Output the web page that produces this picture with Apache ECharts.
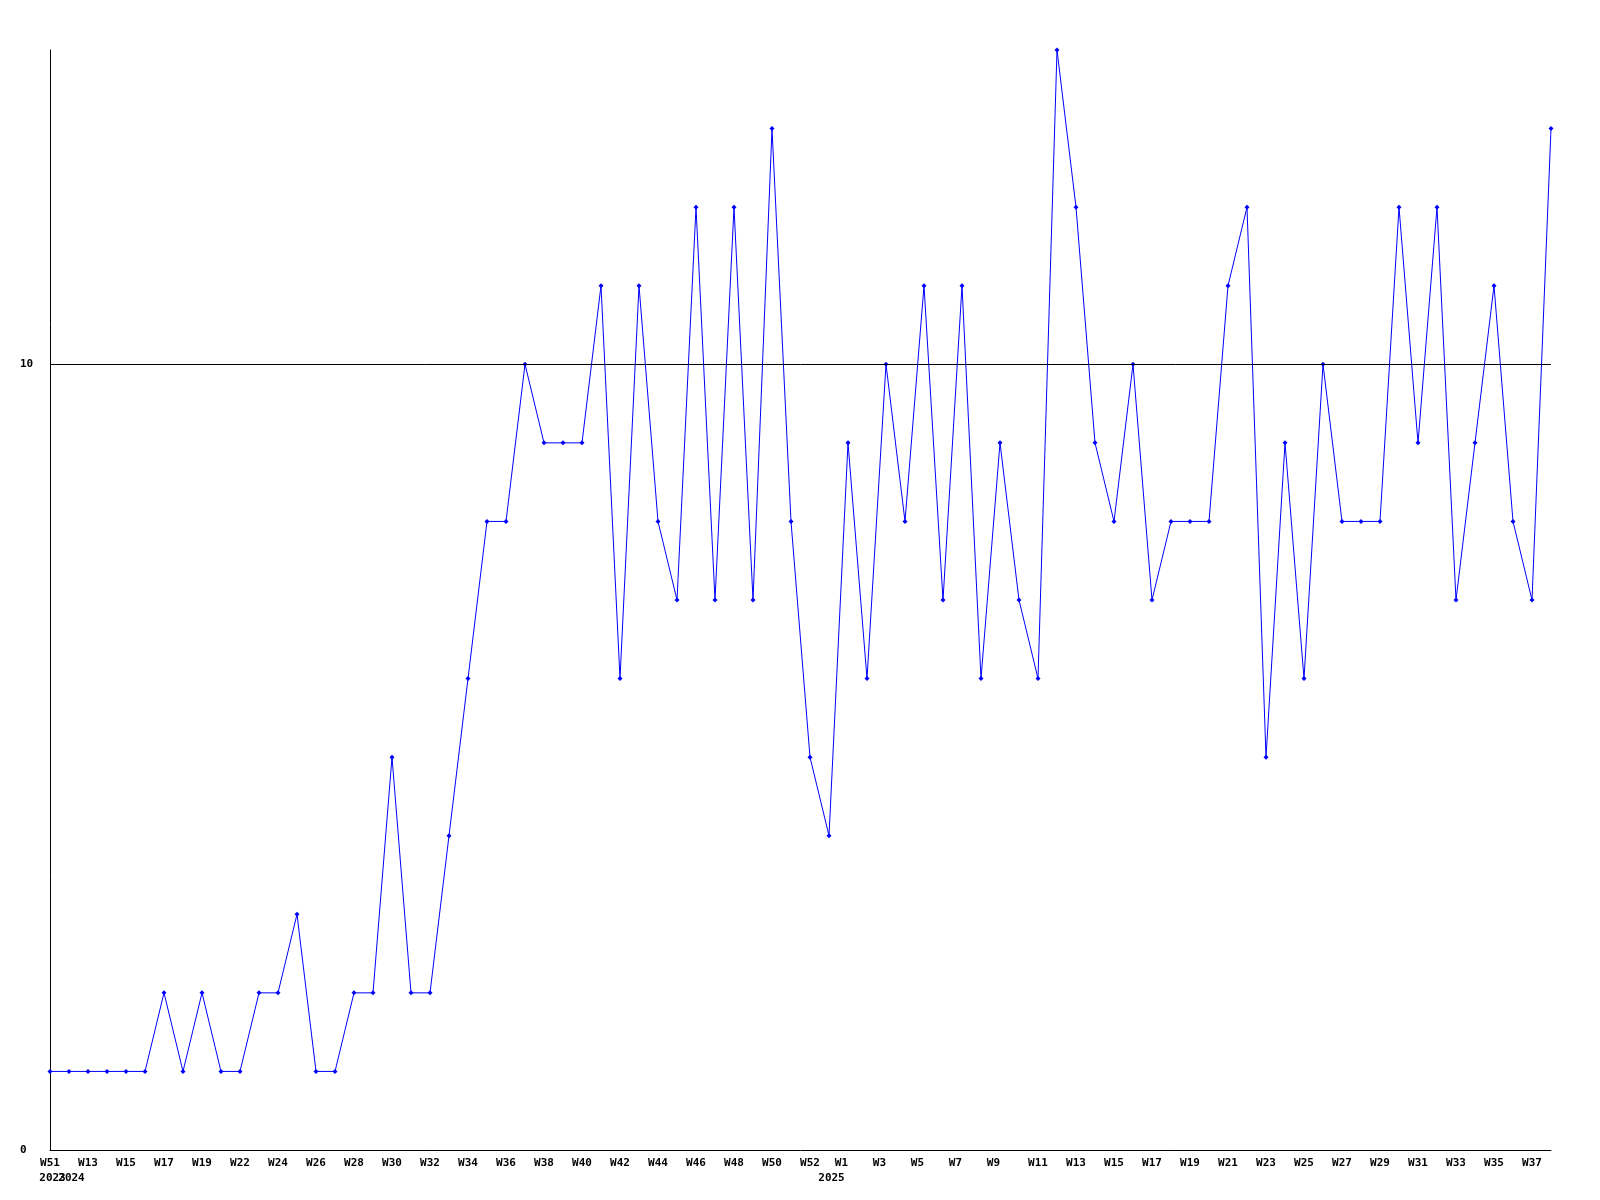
<!DOCTYPE html>
<html>
<head>
<meta charset="utf-8">
<script src="https://cdn.jsdelivr.net/npm/echarts@6/dist/echarts.min.js"></script>
<style>html,body{margin:0;padding:0;background:#fff}#c{width:1600px;height:1200px}</style>
</head>
<body>
<div id="c"></div>
<script>
const weeks = [
  'W51','W12','W13','W14','W15','W16','W17','W18','W19','W21',
  'W22','W23','W24','W25','W26','W27','W28','W29','W30','W31',
  'W32','W33','W34','W35','W36','W37','W38','W39','W40','W41',
  'W42','W43','W44','W45','W46','W47','W48','W49','W50','W51',
  'W52','W53','W1','W2','W3','W4','W5','W6','W7','W8',
  'W9','W10','W11','W12','W13','W14','W15','W16','W17','W18',
  'W19','W20','W21','W22','W23','W24','W25','W26','W27','W28',
  'W29','W30','W31','W32','W33','W34','W35','W36','W37','W38'
];
const values = [
  1,1,1,1,1,1,2,1,2,1,
  1,2,2,3,1,1,2,2,5,2,
  2,4,6,8,8,10,9,9,9,11,
  6,11,8,7,12,7,12,7,13,8,
  5,4,9,6,10,8,11,7,11,6,
  9,7,6,14,12,9,8,10,7,8,
  8,8,11,12,5,9,6,10,8,8,
  8,12,9,12,7,9,11,8,7,13
];
const yearIndex = [0, 1, 41];
const yearText = ['2023', '2024', '2025'];
const yTicks = [0, 10];

const yearLabels = weeks.map((w, i) => {
  const k = yearIndex.indexOf(i);
  return k >= 0 ? yearText[k] : '';
});

const font = { fontFamily: 'DejaVu Sans Mono', fontWeight: 'bold', fontSize: 11, color: '#000' };

const chart = echarts.init(document.getElementById('c'));
chart.setOption({
  animation: false,
  backgroundColor: '#fff',
  grid: { left: 50, right: 49, top: 50, bottom: 50, containLabel: false },
  xAxis: [
    {
      type: 'category', data: weeks, boundaryGap: false, position: 'bottom',
      axisLine: { show: true, lineStyle: { color: '#000', width: 1 } },
      axisTick: { show: false },
      splitLine: { show: false },
      axisLabel: Object.assign({ interval: 1, margin: 8,
        formatter: v => v.length < 3 ? v + '  ' : v }, font)
    },
    {
      type: 'category', data: yearLabels, boundaryGap: false, position: 'bottom',
      offset: 15,
      axisLine: { show: false }, axisTick: { show: false }, splitLine: { show: false },
      axisLabel: Object.assign({ interval: 0, margin: 8, padding: [0, 0, 0, 5] }, font)
    }
  ],
  yAxis: {
    type: 'value', min: 0, max: 14, interval: 10,
    axisLine: { show: true, lineStyle: { color: '#000', width: 1 } },
    axisTick: { show: false },
    splitLine: { show: false },
    axisLabel: Object.assign({ align: 'left', margin: 30, showMaxLabel: false,
      formatter: v => yTicks.indexOf(v) >= 0 ? String(v) : '' }, font)
  },
  series: [{
    type: 'line', data: values, xAxisIndex: 0,
    lineStyle: { color: '#0000ff', width: 1 },
    itemStyle: { color: '#0000ff' },
    symbol: 'diamond', symbolSize: 5, showSymbol: true,
    markLine: {
      silent: true, symbol: 'none', label: { show: false },
      lineStyle: { color: '#000', width: 1, type: 'solid' },
      data: [{ yAxis: yTicks[1] }]
    }
  }]
});
</script>
</body>
</html>
